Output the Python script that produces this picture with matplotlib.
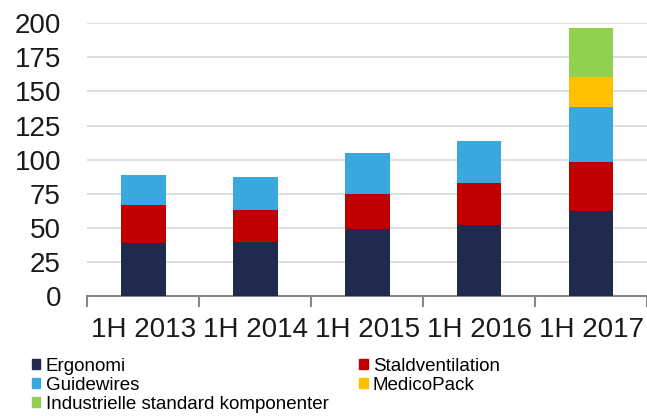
import numpy as np
import matplotlib
matplotlib.use("Agg")
import matplotlib.pyplot as plt
from matplotlib.patches import Patch

periods = ['1H 2013', '1H 2014', '1H 2015', '1H 2016', '1H 2017']
ergonomi = [38.6, 39.6, 49.1, 51.8, 62.3]
stald = [28.1, 23.5, 25.5, 31.1, 35.7]
guidewires = [21.8, 24.4, 30.0, 31.0, 40.4]
medicopack = [0, 0, 0, 0, 22.4]
industri = [0, 0, 0, 0, 35.8]

names = ['Ergonomi', 'Staldventilation', 'Guidewires', 'MedicoPack',
         'Industrielle standard komponenter']
colors = ['#1F2A4D', '#C00000', '#38A8DF', '#FFC000', '#92D050']
series = [ergonomi, stald, guidewires, medicopack, industri]

plt.rcParams['font.family'] = ['Liberation Sans', 'DejaVu Sans']

fig = plt.figure(figsize=(6.47, 4.16), dpi=100)
ax = fig.add_axes([0.135, 0.2885, 0.865, 0.6555])

x = np.arange(len(periods))
bottom = np.zeros(len(periods))
for vals, c in zip(series, colors):
    v = np.array(vals, dtype=float)
    ax.bar(x, v, 0.4, bottom=bottom, color=c, zorder=3)
    bottom += v

ax.set_ylim(0, 200)
ax.set_xlim(-0.5, 4.5)
ax.set_yticks(np.arange(0, 201, 25))
ax.yaxis.grid(True, color='#D9D9D9', linewidth=1.2, zorder=0)
ax.tick_params(axis='y', length=0, labelsize=20, pad=19, colors='#1a1a1a')
ax.set_xticks(x)
ax.set_xticklabels(periods)
ax.set_xticks(np.arange(-0.5, 5, 1), minor=True)
ax.tick_params(axis='x', which='major', length=0, labelsize=20, pad=15, colors='#1a1a1a')
ax.tick_params(axis='x', which='minor', length=8, width=1.5, color='#888888')
for s in ['left', 'right', 'top']:
    ax.spines[s].set_visible(False)
ax.spines['bottom'].set_color('#888888')
ax.spines['bottom'].set_linewidth(1.5)

handles = [Patch(color=c, label=n) for c, n in zip(colors, names)]
order = [0, 2, 4, 1, 3]
fig.legend([handles[i] for i in order], [names[i] for i in order],
           loc='upper left', bbox_to_anchor=(0.05, 0.140), ncol=2, frameon=False,
           fontsize=13.5, handlelength=0.43, handleheight=0.43, handletextpad=0.28,
           labelspacing=0.1, columnspacing=1.65, borderpad=0, borderaxespad=0)

fig.savefig('out.png', dpi=100)
